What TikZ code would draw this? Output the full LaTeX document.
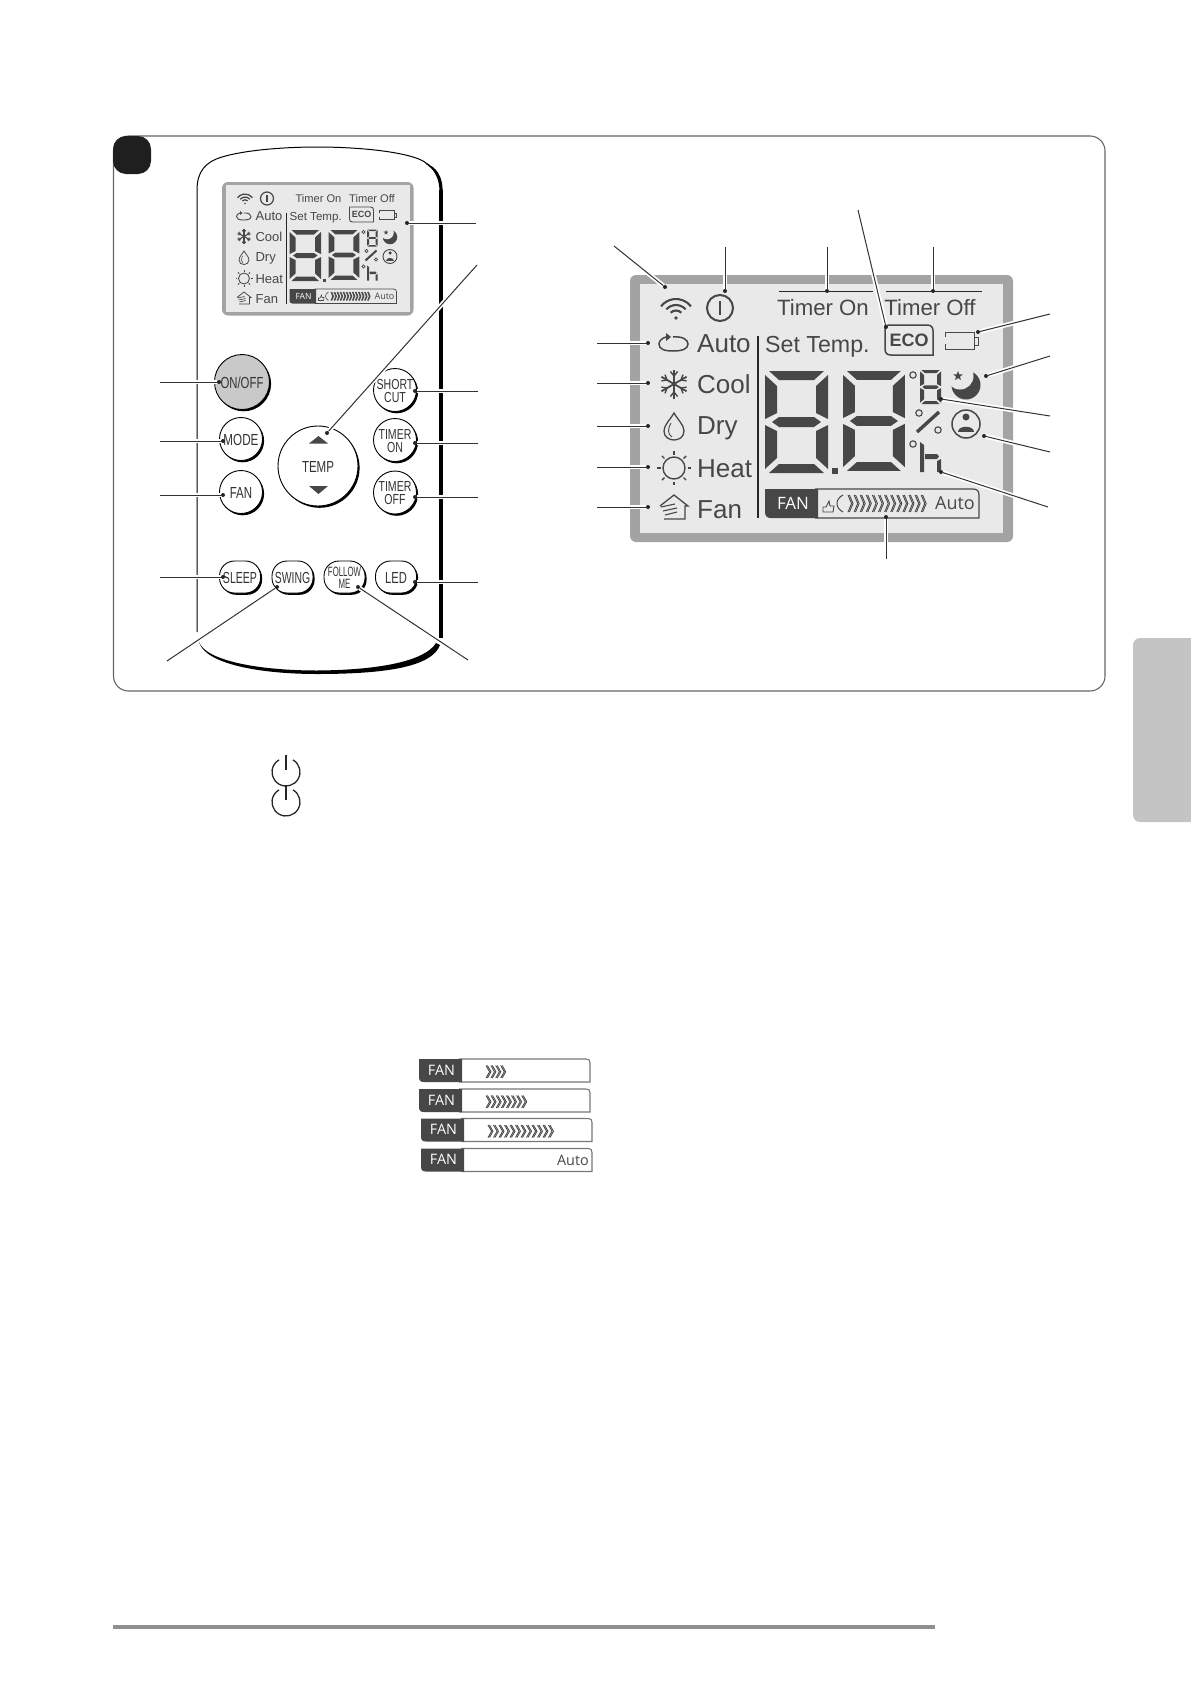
\documentclass[tikz,border=0pt]{standalone}
\usepackage{xcolor}
\usepackage{tikz}
\usepackage{fontspec}
\usetikzlibrary{shapes.geometric,shadows}
\setmainfont{Liberation Sans}
\newfontfamily\fanfont{Open Sans}
\definecolor{lcdink}{HTML}{474747}
\definecolor{lcdframe}{HTML}{A3A3A3}
\definecolor{lcdback}{HTML}{E9E9E9}
\definecolor{panelline}{HTML}{666666}
\definecolor{barline}{HTML}{777777}
\definecolor{buttongrey}{HTML}{C9C9C9}
\definecolor{tabgrey}{HTML}{C4C4C4}
\definecolor{footgrey}{HTML}{8F8F8F}

%one seven segment digit, drawn 63 by 102 and scaled
\newcommand{\lcddigit}[3]{
\begin{scope}[shift={(#1,#2)},scale=#3,lcdink]
\fill (4,0) -- (59,0) -- (49,9) -- (14,9) -- cycle;
\fill (0,4) -- (12,15) -- (12,42) -- (0,48) -- cycle;
\fill (63,4) -- (51,15) -- (51,42) -- (63,48) -- cycle;
\fill (14,46) -- (49,46) -- (56,51) -- (49,56) -- (14,56) -- (7,51) -- cycle;
\fill (0,54) -- (12,60) -- (12,87) -- (0,98) -- cycle;
\fill (63,54) -- (51,60) -- (51,87) -- (63,98) -- cycle;
\fill (4,102) -- (59,102) -- (49,93) -- (14,93) -- cycle;
\end{scope}}

%row of chevrons: x, top, bottom, count, step
\newcommand{\chevrons}[5]{
\pgfmathsetmacro{\cmid}{((#2)+(#3))/2}
\foreach \i in {1,...,#4} {
\pgfmathsetmacro{\cx}{(#1)+(\i-1)*(#5)}
\draw[lcdink,line width=.9pt] (\cx,#2) -- (\cx+3.6,\cmid) -- (\cx,#3);
\draw[lcdink,line width=.9pt] (\cx+1.4,#2) -- (\cx+5,\cmid) -- (\cx+1.4,#3);
}}

%fan strip below the page text
\newcommand{\fanbar}[5]{
\draw[barline,line width=1.1pt] (#2+40,#3) -- (#2+167,#3) .. controls (#2+170,#3) and (#2+171,#3+1) .. (#2+171,#3+4) -- (#2+171,#3+23) -- (#2+40,#3+23);
\fill[lcdink] (#2+43,#3) -- (#2,#3) -- (#2,#3+18) .. controls (#2,#3+21.5) and (#2+1.5,#3+23) .. (#2+5,#3+23) -- (#2+43,#3+23) -- cycle;
\node[barlabel,text=white] (#1) at (#2+22.5,#3+11) {FAN};
\ifnum#4>0 \chevrons{#2+67}{#3+6.5}{#3+19}{#4}{#5}\fi
}

%the display, drawn at its large size: prefix, line factor, frame width
\newcommand{\lcdpanel}[3]{
\def\lf{#2}
\fill[lcdframe,rounded corners=6pt] (630,275) rectangle (1013,542);
\fill[lcdback] (630+#3,275+.85*#3) rectangle (1013-#3,542-.9*#3);

%top row
\draw[lcdink,line width=\lf*2.1pt] (676,318) ++(38:19pt) arc[start angle=38,end angle=142,radius=19pt];
\draw[lcdink,line width=\lf*2.1pt] (676,318) ++(42:13pt) arc[start angle=42,end angle=138,radius=13pt];
\draw[lcdink,line width=\lf*2.1pt] (676,318) ++(45:7.5pt) arc[start angle=45,end angle=135,radius=7.5pt];
\fill[lcdink] (676,318) circle (1.8);
\draw[lcdink,line width=\lf*2pt] (720,308) circle (13);
\draw[lcdink,line width=\lf*2.6pt] (720,301) -- (720,315);
\node[lcdtext,font=\fontsize{22.2}{24}\selectfont] (#1timeron) at (823,308) {Timer On};
\node[lcdtext,font=\fontsize{22.2}{24}\selectfont] (#1timeroff) at (930,308) {Timer Off};

%modes column
\draw[lcdink,line width=\lf*1.5pt] (673,337) .. controls (683,336) and (688,340) .. (688,344) .. controls (688,349) and (682,351) .. (673,351) .. controls (664,351) and (659,349) .. (659,344) .. controls (659,341) and (662,338) .. (666,337);
\fill[lcdink] (671,337) -- (666,333) -- (666,341) -- cycle;
\foreach \a in {30,90,...,330} {
\begin{scope}[shift={(674,384)},rotate=\a]
\draw[lcdink,line width=\lf*1.8pt] (0,0) -- (14.5,0);
\draw[lcdink,line width=\lf*1.4pt] (12.5,-3.6) -- (8,0) -- (12.5,3.6);
\end{scope}}
\draw[lcdink,line width=\lf*1.3pt] (674,413) .. controls (678,420) and (684,425) .. (684,431) .. controls (684,437) and (679,440) .. (674,440) .. controls (669,440) and (664,437) .. (664,431) .. controls (664,425) and (670,420) .. (674,413) -- cycle;
\draw[lcdink,line width=\lf*.9pt] (671,423) .. controls (668,428) and (667,434) .. (672,437);
\draw[lcdink,line width=\lf*1.4pt] (674,468) circle (11);
\foreach \a in {0,45,...,315} {
\draw[lcdink,line width=\lf*1.4pt] (674,468) ++(\a:13.5pt) -- ++(\a:3.5pt);
}
\draw[lcdink,line width=\lf*1.3pt] (660,506) -- (674,495) -- (688,506) -- (685,506) -- (685,519) -- (664,519);
\draw[lcdink,line width=\lf*1.1pt] (661,507) -- (675,504) (663,511) -- (677,508) (665,515) -- (677,512);
\node[lcdtext,anchor=base west,font=\fontsize{26}{28}\selectfont] (#1auto) at (697,352) {Auto};
\node[lcdtext,anchor=base west,font=\fontsize{26}{28}\selectfont] (#1cool) at (697,393) {Cool};
\node[lcdtext,anchor=base west,font=\fontsize{26}{28}\selectfont] (#1dry) at (697,434) {Dry};
\node[lcdtext,anchor=base west,font=\fontsize{26}{28}\selectfont] (#1heat) at (697,477) {Heat};
\node[lcdtext,anchor=base west,font=\fontsize{26}{28}\selectfont] (#1fan) at (697,518) {Fan};
\draw[black!85,line width=\lf*1.6pt] (758,336) -- (758,518);

%set temperature and digits
\node[lcdtext,anchor=base west,font=\fontsize{23.2}{24}\selectfont] (#1settemp) at (765,352) {Set Temp.};
\draw[lcdink,line width=\lf*1.5pt] (885,325) -- (927,325) .. controls (931,325) and (933,327) .. (933,331) -- (933,355) -- (891,355) .. controls (887,355) and (885,353) .. (885,349) -- cycle;
\node[lcdtext,font=\bfseries\fontsize{18}{20}\selectfont] (#1eco) at (909,340) {ECO};
\draw[lcdink,line width=\lf*.9pt] (945,337) -- (945,332) -- (974,332) -- (974,349) -- (945,349) -- (945,344);
\draw[lcdink,line width=\lf*.9pt] (974,337) -- (978,337) -- (978,345) -- (974,345);
\lcddigit{765}{371}{1}
\lcddigit{843}{371}{.98}
\fill[lcdink] (832,468) rectangle (838,474);
\lcddigit{920}{370}{.335}
\draw[lcdink,line width=\lf*1.1pt] (913,375) circle (3.2);
\draw[lcdink,line width=\lf*1.1pt] (919,413) circle (3.2);
\draw[lcdink,line width=\lf*1.1pt] (938,430) circle (3.2);
\draw[lcdink,line width=\lf*1.1pt] (913,444) circle (3.2);
\draw[lcdink,line width=\lf*3.4pt] (917,432) -- (939,412);
\fill[lcdink] (920,442) -- (924,445) -- (924,472) -- (920,472) -- cycle;
\fill[lcdink] (925,454) -- (937,454) -- (939,456.5) -- (937,459) -- (925,459) -- cycle;
\fill[lcdink] (937,461) -- (941,459) -- (941,472) -- (937,472) -- cycle;

%sleep and follow me symbols
\fill[lcdink] (966,385) circle (14.5);
\fill[lcdback] (960,376) circle (13.5);
\node[star,star points=5,star point ratio=2.4,fill=lcdink,inner sep=0pt,minimum size=10pt,transform shape] (#1star) at (958,376) {};
\draw[lcdink,line width=\lf*1.5pt] (966,424) circle (14);
\fill[lcdink] (966,417) circle (3.5);
\fill[lcdink] (958,432) .. controls (958,425) and (974,425) .. (974,432) -- cycle;

%fan strip
\draw[lcdink,line width=\lf*1.2pt] (815,489) -- (973,489) .. controls (977,489) and (979,491) .. (979,495) -- (979,518) -- (815,518);
\fill[lcdink] (818,489) -- (765,489) -- (765,512) .. controls (765,516) and (767,518) .. (771,518) -- (818,518) -- cycle;
\node[text=white,inner sep=0pt,transform shape,font=\fanfont\fontsize{17}{18}\selectfont] (#1fanlabel) at (793,503) {FAN};
\draw[lcdink,line width=\lf*.9pt] (823,512) -- (823,507) -- (826,507) -- (829,501) -- (830,506) -- (834,506) -- (833,512) -- cycle;
\draw[lcdink,line width=\lf*1pt] (843,495) .. controls (835,499) and (835,508) .. (843,512);
\chevrons{848}{495}{512}{13}{6.1}
\node[lcdtext,inner sep=0pt,font=\fanfont\fontsize{18}{18}\selectfont] (#1fanauto) at (955,503) {Auto};
}

\newcommand{\btnlbl}[2]{\vbox{\kern5pt\hbox{\makebox[0pt]{\scalebox{#1}[1]{\begin{tabular}{@{}c@{}}#2\end{tabular}}}}}}

\begin{document}
\begin{tikzpicture}
    [x=1pt,y=-1pt,
    lcdtext/.style={text=lcdink,inner sep=0pt,transform shape},
    barlabel/.style={inner sep=0pt,font=\fanfont\fontsize{14.4}{15}\selectfont},
    roundbtn/.style={circle,draw=black,line width=.9pt,fill=white,minimum size=43pt,inner sep=0pt,text=black!80,
        font=\fontsize{16}{12.4}\selectfont,general shadow={shadow xshift=1.6pt,shadow yshift=-1.8pt,fill=black}},
    twoline/.style={font=\fontsize{14.5}{11.6}\selectfont},
    flatbtn/.style={roundbtn,rectangle,rounded corners=15pt,minimum width=41pt,minimum height=32pt},
    dot/.style={circle,fill=black!85,inner sep=0pt,minimum size=4pt},
    leader/.style={black!80,line width=1pt,preaction={draw=white,line width=4.5pt}},
    powerring/.style={black!85,line width=1.3pt}]

\useasboundingbox (0,0) rectangle (1191,1684);

%frame of the figure and its badge
\draw[panelline,line width=1.1pt,rounded corners=15pt] (113.5,136) rectangle (1105,691);
\fill[black!88,rounded corners=13pt] (113,136) rectangle (151,174);

%side tab and foot rule
\fill[tabgrey,rounded corners=7pt] (1133,638) -- (1200,638) -- (1200,822) -- (1133,822) -- cycle;
\fill[footgrey] (113,1624.5) rectangle (935,1628.5);

%remote body
\draw[black,line width=1pt] (197,632) -- (197,190) .. controls (197,172) and (205,162) .. (222,157) .. controls (245,150) and (285,147) .. (317,147) .. controls (350,147) and (390,150) .. (413,157) .. controls (430,162) and (439,172) .. (441,190);
\fill[black] (425,163.5) .. controls (435,169) and (439.4,180) .. (439.4,190) -- (442.6,190) .. controls (442.6,178) and (437,166) .. (425,163.5) -- cycle;
\draw[black,line width=3.2pt] (441,190) -- (441,638);
\fill[black] (199,642) .. controls (205,664) and (260,674) .. (317,674) .. controls (385,674) and (432,667) .. (440,645) -- (436,643) .. controls (425,661) and (380,670) .. (317,670.5) .. controls (260,670.5) and (206,661) .. (199,642) -- cycle;

%display on the remote
\begin{scope}[shift={(-93,44.5)},scale=.5]
\lcdpanel{small}{.6}{7}
\end{scope}

%buttons
\node[roundbtn,minimum size=55pt,fill=buttongrey] (btnonoff) at (242,382) {\btnlbl{.71}{ON/OFF}};
\node[roundbtn] (btnmode) at (241,439) {\btnlbl{.73}{MODE}};
\node[roundbtn] (btnfan) at (241,492) {\btnlbl{.72}{FAN}};
\node[roundbtn,twoline] (btnshort) at (395,390) {\btnlbl{.73}{SHORT\\[-.6pt]CUT}};
\node[roundbtn,twoline] (btntimeron) at (395,440) {\btnlbl{.73}{TIMER\\[-.6pt]ON}};
\node[roundbtn,twoline] (btntimeroff) at (395,492.5) {\btnlbl{.73}{TIMER\\[-.6pt]OFF}};
\node[roundbtn,minimum size=80pt] (btntemp) at (318,466) {\btnlbl{.72}{TEMP}};
\fill[lcdink] (309,443.5) -- (318.5,436) -- (328,443.5) -- cycle;
\fill[lcdink] (309,486) -- (318.5,494) -- (328,486) -- cycle;
\node[flatbtn] (btnsleep) at (240,577) {\btnlbl{.66}{SLEEP}};
\node[flatbtn] (btnswing) at (292.5,577) {\btnlbl{.65}{SWING}};
\node[flatbtn,font=\fontsize{13.5}{11}\selectfont] (btnfollow) at (344.5,577) {\btnlbl{.58}{FOLLOW\\[-.5pt]ME}};
\node[flatbtn] (btnled) at (396,577) {\btnlbl{.7}{LED}};

%large display
\lcdpanel{big}{1}{10}
\draw[black!85,line width=1pt] (779,291) -- (873,291);
\draw[black!85,line width=1pt] (886,291) -- (982,291);

%leaders of the remote
\coordinate (lonoff) at (160,382); \node[dot] (donoff) at (219,382) {};
\draw[leader] (lonoff) -- (donoff);
\coordinate (lmode) at (160,441); \node[dot] (dmode) at (223,441) {};
\draw[leader] (lmode) -- (dmode);
\coordinate (lfan) at (160,495); \node[dot] (dfan) at (223,495) {};
\draw[leader] (lfan) -- (dfan);
\coordinate (lsleep) at (160,577); \node[dot] (dsleep) at (223,577) {};
\draw[leader] (lsleep) -- (dsleep);
\coordinate (lswing) at (167,661); \node[dot] (dswing) at (277,587) {};
\draw[leader] (lswing) -- (dswing);
\coordinate (lfollow) at (468,660); \node[dot] (dfollow) at (358,587) {};
\draw[leader] (lfollow) -- (dfollow);
\coordinate (lled) at (478,582); \node[dot] (dled) at (415,582) {};
\draw[leader] (lled) -- (dled);
\coordinate (ltimeroff) at (478,497); \node[dot] (dtimeroff) at (415,497) {};
\draw[leader] (ltimeroff) -- (dtimeroff);
\coordinate (ltimeron) at (478,443); \node[dot] (dtimeron) at (415,443) {};
\draw[leader] (ltimeron) -- (dtimeron);
\coordinate (lshort) at (478,391); \node[dot] (dshort) at (415,391) {};
\draw[leader] (lshort) -- (dshort);
\coordinate (ltemp) at (477,265); \node[dot] (dtemp) at (327,433) {};
\draw[leader] (ltemp) -- (dtemp);
\coordinate (lscreen) at (476,223); \node[dot] (dscreen) at (407,223) {};
\draw[leader] (lscreen) -- (dscreen);

%leaders of the display, top row
\coordinate (lwifi) at (614,246); \node[dot] (dwifi) at (665,287) {};
\draw[leader] (lwifi) -- (dwifi);
\coordinate (lpower) at (725,247); \node[dot] (dpower) at (725,291) {};
\draw[leader] (lpower) -- (dpower);
\coordinate (ltimerone) at (827,247); \node[dot] (dtimerone) at (827,291) {};
\draw[leader] (ltimerone) -- (dtimerone);
\coordinate (ltimertwo) at (933,247); \node[dot] (dtimertwo) at (933,291) {};
\draw[leader] (ltimertwo) -- (dtimertwo);
\coordinate (leco) at (858,210); \node[dot] (deco) at (886,327) {};
\draw[leader] (leco) -- (deco);

%leaders of the display, left column
\coordinate (lauto) at (597,343); \node[dot] (dauto) at (648,343) {};
\draw[leader] (lauto) -- (dauto);
\coordinate (lcool) at (597,383); \node[dot] (dcool) at (648,383) {};
\draw[leader] (lcool) -- (dcool);
\coordinate (ldry) at (597,426); \node[dot] (ddry) at (648,426) {};
\draw[leader] (ldry) -- (ddry);
\coordinate (lheat) at (597,467); \node[dot] (dheat) at (648,467) {};
\draw[leader] (lheat) -- (dheat);
\coordinate (lhouse) at (597,507); \node[dot] (dhouse) at (648,507) {};
\draw[leader] (lhouse) -- (dhouse);

%leaders of the display, right side
\coordinate (lbattery) at (1050,314); \node[dot] (dbattery) at (978,332) {};
\draw[leader] (lbattery) -- (dbattery);
\coordinate (lmoon) at (1050,356); \node[dot] (dmoon) at (986,376) {};
\draw[leader] (lmoon) -- (dmoon);
\coordinate (lsmall) at (1050,416); \node[dot] (dsmall) at (941,399) {};
\draw[leader] (lsmall) -- (dsmall);
\coordinate (lperson) at (1050,452); \node[dot] (dperson) at (984,436) {};
\draw[leader] (lperson) -- (dperson);
\coordinate (lhour) at (1048,507); \node[dot] (dhour) at (941,472) {};
\draw[leader] (lhour) -- (dhour);
\coordinate (lstrip) at (886,559); \node[dot] (dstrip) at (886,517) {};
\draw[leader] (lstrip) -- (dstrip);

%power symbols
\draw[powerring] (286,772) ++(60:14pt) arc[start angle=60,end angle=-240,radius=14pt];
\draw[powerring] (286,755) -- (286,770);
\draw[powerring] (286,802) ++(60:14pt) arc[start angle=60,end angle=-240,radius=14pt];
\draw[powerring] (286,785) -- (286,800);

%fan speed strips
\fanbar{barlow}{419}{1059}{4}{4.9}
\fanbar{barmid}{419}{1089}{8}{5.1}
\fanbar{barhigh}{421}{1118.5}{12}{5.5}
\fanbar{barauto}{421}{1148.5}{0}{0}
\node[barlabel,text=lcdink,anchor=east] (barautotext) at (589,1160.5) {Auto};

\end{tikzpicture}
\end{document}
